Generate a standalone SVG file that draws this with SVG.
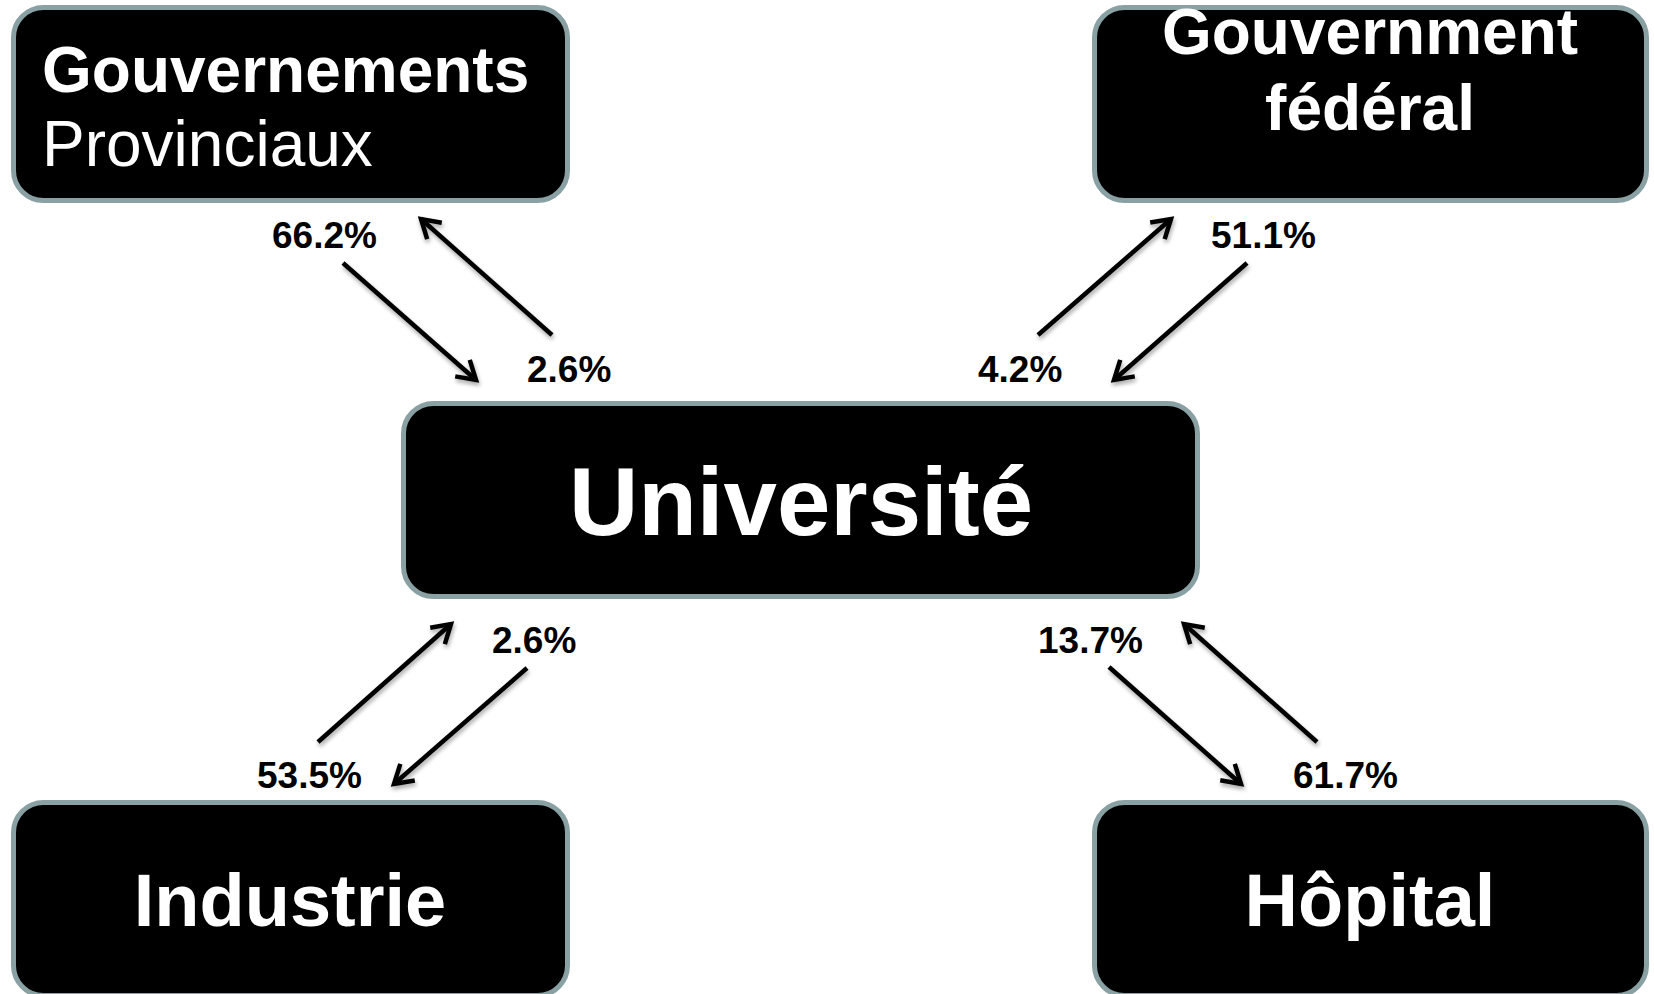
<svg xmlns="http://www.w3.org/2000/svg" width="1654" height="994" viewBox="0 0 1654 994">
<style>
.box{fill:#000;stroke:#8aa1a4;stroke-width:5}
.t{font-family:"Liberation Sans",Arial,sans-serif;fill:#fff;font-weight:bold}
.pct{font-family:"Liberation Sans",Arial,sans-serif;fill:#000;font-weight:bold;font-size:37px}
.arr{stroke:#000;stroke-width:4.5;fill:none;marker-end:url(#ah);filter:url(#sh)}
</style>
<defs>
<marker id="ah" markerUnits="userSpaceOnUse" markerWidth="30" markerHeight="30" viewBox="0 0 30 30" refX="24" refY="15" orient="auto">
<path d="M6,4 L24,15 L6,26" fill="none" stroke="#000" stroke-width="4.5" stroke-linejoin="miter"/>
</marker>
<filter id="sh" x="-20%" y="-20%" width="140%" height="140%">
<feGaussianBlur in="SourceAlpha" stdDeviation="2"/>
<feOffset dx="1" dy="3" result="b"/>
<feComponentTransfer><feFuncA type="linear" slope="0.35"/></feComponentTransfer>
<feMerge><feMergeNode/><feMergeNode in="SourceGraphic"/></feMerge>
</filter>
</defs>
<rect width="1654" height="994" fill="#fff"/>
<g id="prov">
<rect class="box" x="13.5" y="7.5" width="554" height="193" rx="30"/>
<text class="t" x="42" y="92" font-size="64">Gouvernements</text>
<text class="t" x="42" y="166" font-size="64" style="font-weight:normal">Provinciaux</text>
</g>
<g id="fed">
<rect class="box" x="1094.5" y="7.5" width="552" height="193" rx="30"/>
<text class="t" x="1370" y="54" font-size="64" text-anchor="middle">Gouvernment</text>
<text class="t" x="1370" y="130" font-size="64" text-anchor="middle">fédéral</text>
</g>
<g id="univ">
<rect class="box" x="403.5" y="403.5" width="794" height="193" rx="30"/>
<text class="t" x="801" y="535" font-size="96" text-anchor="middle">Université</text>
</g>
<g id="ind">
<rect class="box" x="13.5" y="802.5" width="554" height="193" rx="30"/>
<text class="t" x="290" y="926" font-size="74" text-anchor="middle">Industrie</text>
</g>
<g id="hop">
<rect class="box" x="1094.5" y="802.5" width="552" height="193" rx="30"/>
<text class="t" x="1370" y="926" font-size="74" text-anchor="middle">Hôpital</text>
</g>
<g id="connectors">
<line class="arr" x1="343" y1="263" x2="476" y2="380"/>
<line class="arr" x1="552" y1="335" x2="421" y2="219"/>
<line class="arr" x1="1038" y1="335" x2="1171" y2="219"/>
<line class="arr" x1="1247" y1="263" x2="1114" y2="380"/>
<line class="arr" x1="318" y1="742" x2="451" y2="624"/>
<line class="arr" x1="527" y1="668" x2="394" y2="784"/>
<line class="arr" x1="1109" y1="667" x2="1241" y2="784"/>
<line class="arr" x1="1317" y1="742" x2="1184" y2="624"/>
</g>
<g id="labels">
<text class="pct" x="272" y="248">66.2%</text>
<text class="pct" x="527" y="382">2.6%</text>
<text class="pct" x="978" y="382">4.2%</text>
<text class="pct" x="1211" y="248">51.1%</text>
<text class="pct" x="492" y="653">2.6%</text>
<text class="pct" x="1038" y="653">13.7%</text>
<text class="pct" x="257" y="788">53.5%</text>
<text class="pct" x="1293" y="788">61.7%</text>
</g>
</svg>
